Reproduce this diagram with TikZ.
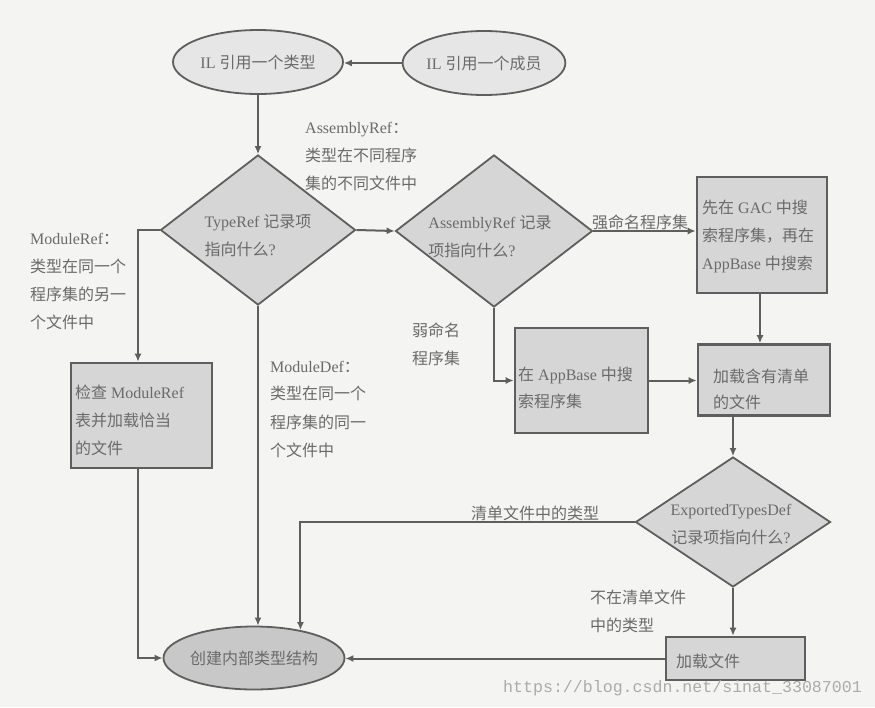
\documentclass[tikz,border=0pt]{standalone}
\usepackage{fontspec}
\setmainfont{Liberation Serif}
\newfontfamily\cjkf{Noto Sans CJK SC}
\newfontfamily\wmf{Liberation Mono}
\usetikzlibrary{shapes.geometric,arrows.meta,calc}
\newcommand\zh[1]{{\cjkf #1}}
\definecolor{linec}{HTML}{5E5E5E}
\definecolor{txtc}{HTML}{6A6A6A}
\definecolor{boxc}{HTML}{D6D6D6}
\definecolor{elc}{HTML}{E6E6E6}
\definecolor{eltwo}{HTML}{C8C8C8}
\definecolor{bgc}{HTML}{F4F4F2}
\definecolor{wmc}{HTML}{ABABAB}
\tikzset{
  ell/.style={ellipse, draw=linec, line width=1.8pt, fill=elc, inner sep=0pt, text=txtc, font=\fontsize{16}{20}\selectfont},
  dia/.style={diamond, draw=linec, line width=1.8pt, fill=boxc, inner sep=0pt},
  procbox/.style={rectangle, draw=linec, line width=2.6pt, fill=boxc, inner sep=0pt},
  lbl/.style={text=txtc, font=\fontsize{16}{28}\selectfont, align=left, inner sep=0pt},
  conn/.style={draw=linec, line width=2pt, -{Latex[length=8pt,width=7pt]}}
}
\begin{document}
\begin{tikzpicture}[x=1pt,y=-1pt]
\fill[bgc] (0,0) rectangle (875,707);
\useasboundingbox (0,0) rectangle (875,707);

% ellipses
\node[ell, minimum width=170pt, minimum height=64pt] (t1) at (258,62) {IL \zh{引用一个类型}};
\node[ell, minimum width=148pt, minimum height=64pt] (t2) at (484,63) {IL \zh{引用一个成员}};
\node[ell, fill=eltwo, minimum width=173pt, minimum height=63pt] (e3) at (254,658) {\zh{创建内部类型结构}};

% diamonds
\node[dia, minimum width=195pt, minimum height=150pt] (d1) at (258,230) {};
\node[lbl] at (258,236) {TypeRef \zh{记录项}\\\zh{指向什么}?};
\node[dia, minimum width=197pt, minimum height=152pt] (d2) at (494,231) {};
\node[lbl] at (490,237) {AssemblyRef \zh{记录}\\\zh{项指向什么}?};
\node[dia, minimum width=195pt, minimum height=130pt] (d3) at (733,522) {};
\node[lbl, align=center] at (731,525) {ExportedTypesDef\\\zh{记录项指向什么}?};

% boxes
\node[procbox, minimum width=130pt, minimum height=116pt] (b1) at (762,235) {};
\node[lbl, anchor=west] at (702,236) {\zh{先在} GAC \zh{中搜}\\\zh{索程序集，再在}\\AppBase \zh{中搜索}};
\node[procbox, minimum width=132pt, minimum height=71pt] (b2) at (764,380) {};
\node[lbl, anchor=west, font=\fontsize{16}{26}\selectfont] at (713,389) {\zh{加载含有清单}\\\zh{的文件}};
\node[procbox, minimum width=133pt, minimum height=105pt] (b3) at (581.5,380.5) {};
\node[lbl, anchor=west, font=\fontsize{16}{27}\selectfont] at (518,388) {\zh{在} AppBase \zh{中搜}\\\zh{索程序集}};
\node[procbox, minimum width=141pt, minimum height=105pt] (b4) at (141.5,415.5) {};
\node[lbl, anchor=west] at (75,420) {\zh{检查} ModuleRef\\\zh{表并加载恰当}\\\zh{的文件}};
\node[procbox, minimum width=139pt, minimum height=43pt] (b5) at (735.5,658.5) {};
\node[lbl, anchor=west] at (676,661) {\zh{加载文件}};

% edge labels
\node[lbl, anchor=west] at (305,157) {AssemblyRef\zh{：}\\\zh{类型在不同程序}\\\zh{集的不同文件中}};
\node[lbl, anchor=west] at (30,282) {ModuleRef\zh{：}\\\zh{类型在同一个}\\\zh{程序集的另一}\\\zh{个文件中}};
\node[lbl, anchor=west] at (270,409) {ModuleDef\zh{：}\\\zh{类型在同一个}\\\zh{程序集的同一}\\\zh{个文件中}};
\node[lbl] at (640,222) {\zh{强命名程序集}};
\node[lbl, anchor=west] at (412,344) {\zh{弱命名}\\\zh{程序集}};
\node[lbl] at (535,513) {\zh{清单文件中的类型}};
\node[lbl, anchor=west] at (590,611) {\zh{不在清单文件}\\\zh{中的类型}};

% connectors
\draw[conn] (t2.west) -- (t2.west -| t1.east);
\draw[conn] (t1.south) -- (d1.north);
\draw[conn] (d1.east) -- (d2.west);
\draw[conn] (d2.east) -- (d2.east -| b1.west);
\draw[conn] ($(b1.south)+(-2,0)$) -- ($(b1.south |- b2.north)+(-2,0)$);
\draw[conn] (d2.south) |- (b3.west);
\draw[conn] (b3.east) -- (b3.east -| b2.west);
\draw[conn] (b2.south -| d3.north) -- (d3.north);
\draw[conn] (d3.west) -| (e3.31.5);
\draw[conn] (d3.south) -- (d3.south |- b5.north);
\draw[conn] (b5.west) -- (b5.west -| e3.east);
\draw[conn] (d1.south) -- (d1.south |- e3.north);
\draw[conn] (d1.west) -| ($(b4.north)+(-3.5,0)$);
\draw[conn] ($(b4.south)+(-3.5,0)$) |- (e3.west);

% watermark
\node[text=wmc, font=\wmf\fontsize{16.6}{20}\selectfont, anchor=west, inner sep=0pt] (wm) at (503,688) {https://blog.csdn.net/sinat\_33087001};
\end{tikzpicture}
\end{document}
